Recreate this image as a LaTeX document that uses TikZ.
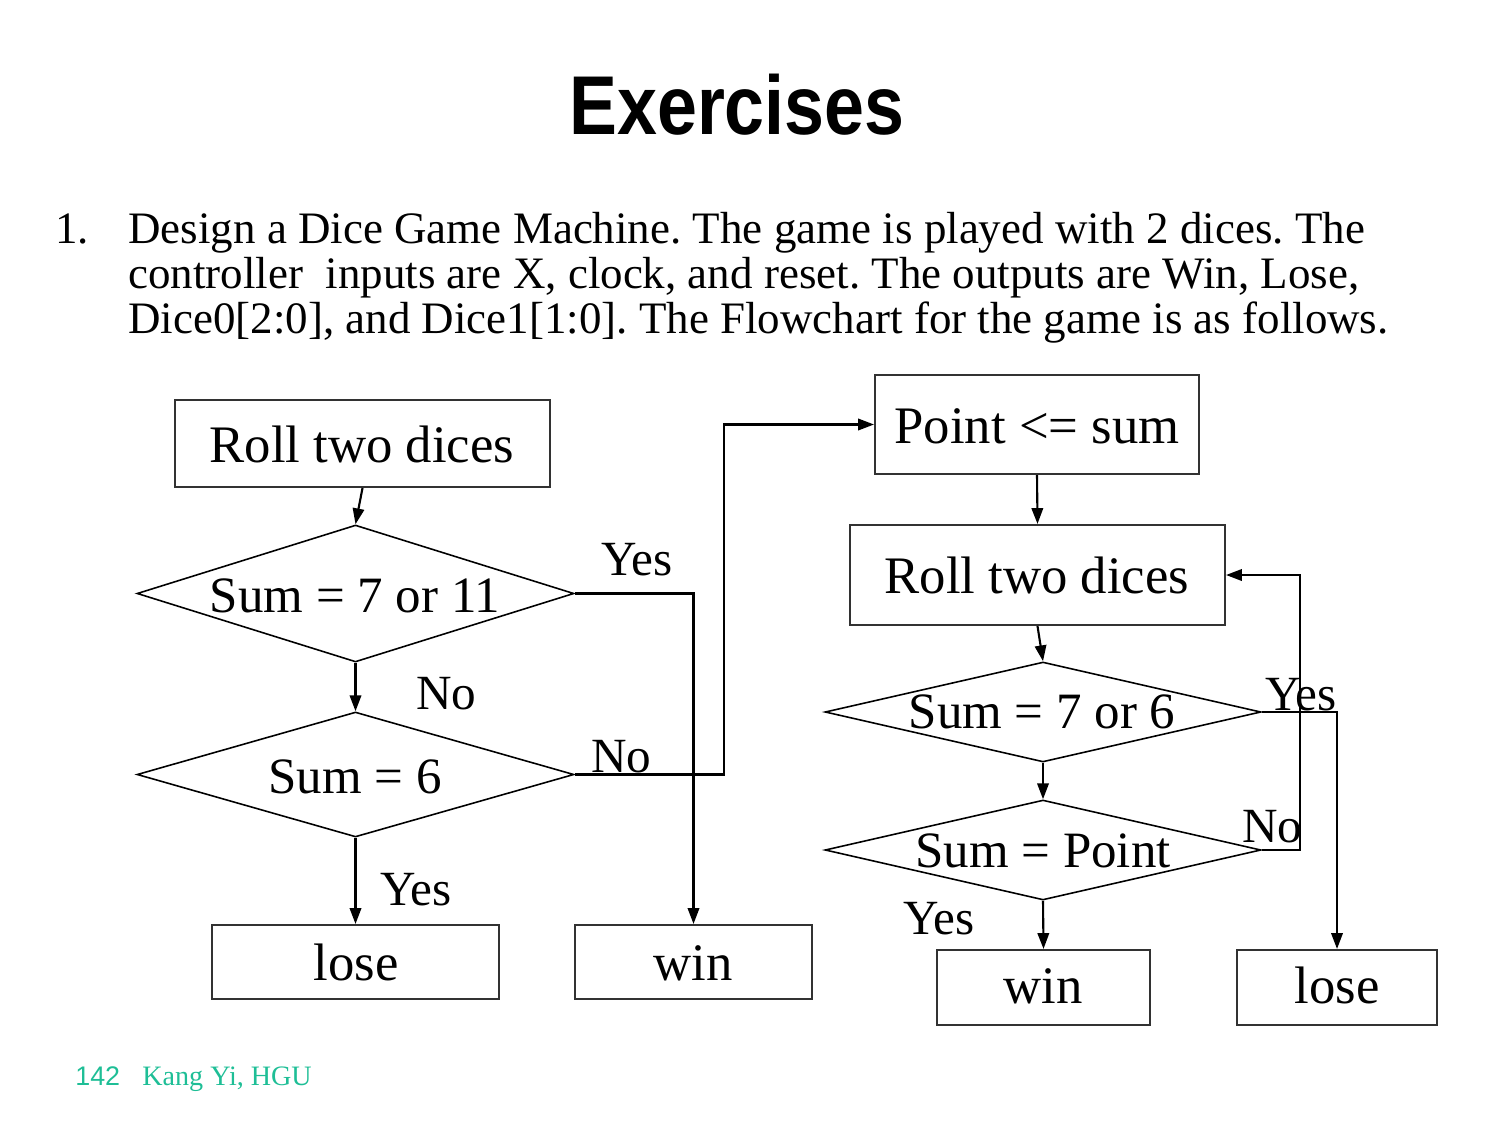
\documentclass[tikz,border=0pt]{standalone}
\usepackage{fontspec}
\setmainfont{Liberation Serif}
\setsansfont{Liberation Sans}
\newfontfamily\titlefont[FakeStretch=0.86]{Liberation Sans}
\usetikzlibrary{shapes.geometric,arrows.meta}
\definecolor{boxc}{RGB}{50,50,50}
\definecolor{footc}{RGB}{30,190,150}
\frenchspacing
\begin{document}
\begin{tikzpicture}[x=0.02cm,y=-0.02cm,
  box/.style={draw=boxc, line width=1.2pt, inner sep=0pt, rectangle},
  dia/.style={draw=black, diamond, line width=0.9pt, inner sep=0pt},
  conn/.style={line width=1.2pt, -{Triangle[length=9pt,width=6.5pt]}},
  big/.style={font=\fontsize{30}{36}\selectfont, inner sep=0pt, anchor=base},
  mid/.style={font=\fontsize{29}{35}\selectfont, inner sep=0pt, anchor=base},
  yn/.style={font=\fontsize{28}{34}\selectfont, inner sep=0pt, anchor=base west},
  body/.style={font=\fontsize{25.6}{30}\selectfont, inner sep=0pt, anchor=base west}]
\useasboundingbox (0,0) rectangle (1500,1125);

% title and text
\node[font=\titlefont\bfseries\fontsize{47.5}{55}\selectfont, inner sep=0pt, anchor=base] (title) at (737,135) {Exercises};
\node[body] (num) at (55,243) {1.};
\node[body] (l1) at (128,243) {Design a Dice Game Machine. The game is played with 2 dices. The};
\node[body] (l2) at (128,288) {controller\ \ inputs are X, clock, and reset. The outputs are Win, Lose,};
\node[body] (l3) at (128,333) {Dice0[2:0], and Dice1[1:0]. The Flowchart for the game is as follows.};

% left flowchart
\node[box, minimum width=7.5cm, minimum height=1.74cm] (b1) at (362.5,443.5) {};
\node[big] (b1t) at (362,462) {Roll two dices};
\node[dia, minimum width=8.74cm, minimum height=2.74cm] (d1) at (355.5,593.5) {};
\node[mid] (d1t) at (355,612) {Sum = 7 or 11};
\node[dia, minimum width=8.74cm, minimum height=2.5cm] (d2) at (355.5,774.5) {};
\node[mid] (d2t) at (355,793) {Sum = 6};
\node[box, minimum width=5.74cm, minimum height=1.48cm] (lose1) at (355.5,962) {};
\node[big] (lose1t) at (356,980) {lose};
\node[box, minimum width=4.74cm, minimum height=1.48cm] (win1) at (693.5,962) {};
\node[big] (win1t) at (693,980) {win};

% right flowchart
\node[box, minimum width=6.48cm, minimum height=1.98cm] (pt) at (1037,424.5) {};
\node[big] (ptt) at (1037,443) {Point <= sum};
\node[box, minimum width=7.5cm, minimum height=2.0cm] (r2) at (1037.5,575) {};
\node[big] (r2t) at (1037,593) {Roll two dices};
\node[dia, minimum width=8.72cm, minimum height=2.0cm] (d3) at (1043,712) {};
\node[mid] (d3t) at (1042,728) {Sum = 7 or 6};
\node[dia, minimum width=8.72cm, minimum height=2.0cm] (d4) at (1043,850) {};
\node[mid] (d4t) at (1043,867) {Sum = Point};
\node[box, minimum width=4.26cm, minimum height=1.5cm] (win2) at (1043.5,987.5) {};
\node[big] (win2t) at (1043,1003) {win};
\node[box, minimum width=4.0cm, minimum height=1.5cm] (lose2) at (1337,987.5) {};
\node[big] (lose2t) at (1337,1003) {lose};

% labels
\node[yn] (y1) at (601,575) {Yes};
\node[yn] (n1) at (416,709) {No};
\node[yn] (n2) at (591,772) {No};
\node[yn] (y2) at (380,905) {Yes};
\node[yn] (y3) at (1265,710) {Yes};
\node[yn] (n3) at (1242,842) {No};
\node[yn] (y4) at (903,934) {Yes};

% connectors
\coordinate (c1) at (724,774.5);
\coordinate (c2) at (1300,850);
\draw[conn] (b1.south) -- (d1.north);
\draw[conn] (d1.south) -- (d2.north);
\draw[conn] (d2.south) -- (lose1.north);
\draw[conn] (d1.east) -| (win1.north);
\draw[conn] (d2.east) -- (c1) |- (pt.west);
\draw[conn] (pt.south) -- (r2.north);
\draw[conn] (r2.south) -- (d3.north);
\draw[conn] (d3.south) -- (d4.north);
\draw[conn] (d4.south) -- (win2.north);
\draw[conn] (d3.east) -| (lose2.north);
\draw[conn] (d4.east) -- (c2) |- (r2.east);

% footer
\node[font=\sffamily\fontsize{15.3}{18}\selectfont, text=footc, inner sep=0pt, anchor=base west] (pg) at (75,1085) {142};
\node[font=\fontsize{16}{19}\selectfont, text=footc, inner sep=0pt, anchor=base west] (auth) at (142,1085) {Kang Yi, HGU};
\end{tikzpicture}
\end{document}
